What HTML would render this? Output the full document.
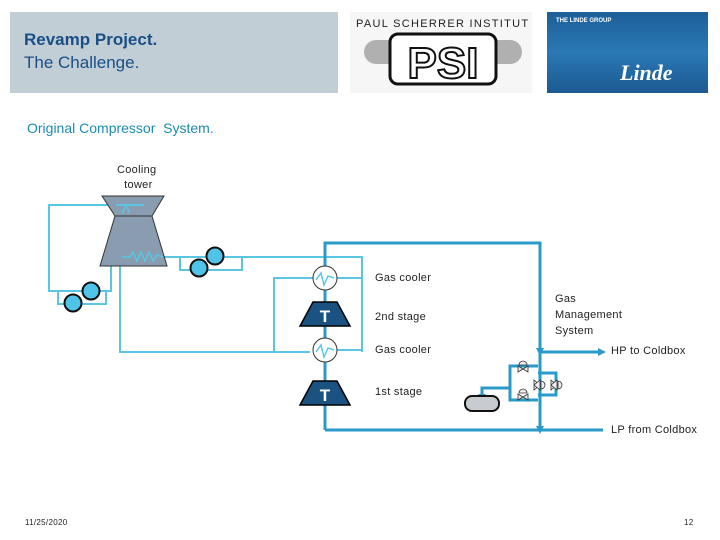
<!DOCTYPE html>
<html><head><meta charset="utf-8"><style>
body{margin:0;width:720px;height:540px;background:#fff;overflow:hidden;position:relative;font-family:"Liberation Sans",sans-serif}
.t{position:absolute;font-size:11px;color:#222;white-space:nowrap;letter-spacing:0.3px}
</style></head><body>
<div style="position:absolute;left:10px;top:12px;width:328px;height:81px;background:#c1ced6"></div>
<div style="position:absolute;left:24px;top:30px;font-size:17px;font-weight:bold;color:#1a4f86">Revamp Project.</div>
<div style="position:absolute;left:24px;top:53px;font-size:17px;color:#1a4f86">The Challenge.</div>
<div style="position:absolute;left:27px;top:120px;font-size:14px;color:#1c8bb4">Original Compressor &nbsp;System.</div>
<div style="position:absolute;left:350px;top:12px;width:182px;height:81px;background:#f6f6f6"></div>
<div style="position:absolute;left:356px;top:18px;font-size:11px;letter-spacing:1.3px;color:#222">PAUL SCHERRER INSTITUT</div>
<svg style="position:absolute;left:350px;top:12px" width="182" height="81">
<rect x="14" y="28" width="158" height="24" rx="12" fill="#b0b0b0"/>
<rect x="40" y="22" width="106" height="50" rx="8" fill="#fff" stroke="#111" stroke-width="3"/>
<text x="93" y="66" font-size="44" font-weight="bold" text-anchor="middle" fill="#fff" stroke="#111" stroke-width="2" font-family="Liberation Sans">PSI</text>
</svg>
<div style="position:absolute;left:547px;top:12px;width:161px;height:81px;background:linear-gradient(180deg,#1d5f98,#2a78b4 50%,#1c5a92)"></div>
<div style="position:absolute;left:556px;top:18px;font-size:6px;color:#fff;font-weight:bold">THE LINDE GROUP</div>
<div style="position:absolute;left:620px;top:60px;font-size:22px;color:#fff;font-style:italic;font-weight:bold;font-family:'Liberation Serif',serif">Linde</div>

<svg style="position:absolute;left:0;top:0" width="720" height="540">
<g fill="none" stroke="#5ac6e4" stroke-width="2">
<polyline points="130,205 49,205 49,291 111,291 111,266"/>
<polyline points="58,291 58,304 106,304 106,291"/>
<polyline points="163,257 362,257 362,352"/>
<polyline points="180,257 180,270 242,270 242,257"/>
<polyline points="122,257 120,257 120,352 310,352"/>
<polyline points="274,352 274,278 313,278"/>
<line x1="337" y1="278" x2="362" y2="278"/>
<line x1="337" y1="350" x2="362" y2="350"/>
</g>
<polygon points="102,196 164,196 152,216 115,216" fill="#8a9db0" stroke="#333" stroke-width="1"/>
<polygon points="115,216 152,216 167,266 100,266" fill="#8a9db0" stroke="#333" stroke-width="1"/>
<polyline points="122,257 130,257 133,252 137,261 141,252 145,261 149,252 153,261 157,255 163,257" fill="none" stroke="#5ac6e4" stroke-width="1.5"/>
<polyline points="116,205 144,205" stroke="#5ac6e4" stroke-width="2"/>
<polyline points="122,213 126,206 130,213 M140,213 144,206 148,213" fill="none" stroke="#5ac6e4" stroke-width="1.5"/>
<g fill="#4fc4e8" stroke="#111" stroke-width="2">
<circle cx="73" cy="303" r="8.5"/><circle cx="91" cy="291" r="8.5"/>
<circle cx="199" cy="268" r="8.5"/><circle cx="215" cy="256" r="8.5"/>
</g>
<g fill="none" stroke="#2a9ac8" stroke-width="3">
<polyline points="325,430 325,243 540,243 540,430"/>
<line x1="325" y1="430" x2="603" y2="430"/>
<line x1="540" y1="352" x2="600" y2="352"/>
<polyline points="510,388 510,366 538,366"/>
<polyline points="510,388 510,400 538,400"/>
<polyline points="538,373 556,373 556,395 538,395"/>
<polyline points="510,388 482,388 482,396"/>
</g>
<polygon points="536,348 544,348 540,356" fill="#2a9ac8"/>
<polygon points="536,426 544,426 540,434" fill="#2a9ac8"/>
<polygon points="598,348 606,352 598,356" fill="#2a9ac8"/>
<polygon points="478,394 486,394 482,400" fill="#2a9ac8"/>
<g fill="#fff" stroke="#333" stroke-width="1">
<circle cx="325" cy="278" r="12"/><circle cx="325" cy="350" r="12"/>
</g>
<polyline points="316,280 321,273 324,285 328,276 334,278" fill="none" stroke="#5ac6e4" stroke-width="1.5"/>
<polyline points="316,352 321,345 324,357 328,348 334,350" fill="none" stroke="#5ac6e4" stroke-width="1.5"/>
<g fill="#1a5282" stroke="#000" stroke-width="1.5">
<polygon points="313,302 337,302 350,326 300,326"/>
<polygon points="313,381 337,381 350,405 300,405"/>
</g>
<text x="325" y="322" font-size="17" font-weight="bold" fill="#fff" text-anchor="middle">T</text>
<text x="325" y="401" font-size="17" font-weight="bold" fill="#fff" text-anchor="middle">T</text>
<rect x="465" y="396" width="34" height="15" rx="7" fill="#c8ccd0" stroke="#111" stroke-width="2"/>
<g fill="#eee" stroke="#333" stroke-width="0.8">
<polygon points="518,366 528,372 528,366 518,372"/><path d="M519,365 a4,4 0 0 1 8,0z"/>
<polygon points="518,394 528,400 528,394 518,400"/><path d="M519,393 a4,4 0 0 1 8,0z"/>
<polygon points="534,380 540,385 534,390"/><polygon points="540,380 534,385 540,390"/><path d="M541,381 a4,4 0 0 1 0,8z"/>
<polygon points="551,380 557,385 551,390"/><polygon points="557,380 551,385 557,390"/><path d="M558,381 a4,4 0 0 1 0,8z"/>
</g>
</svg>
<div class="t" style="left:117px;top:163px;text-align:center;line-height:15px">Cooling<br>&nbsp;tower</div>
<div class="t" style="left:375px;top:272px">Gas cooler</div>
<div class="t" style="left:375px;top:311px">2nd stage</div>
<div class="t" style="left:375px;top:344px">Gas cooler</div>
<div class="t" style="left:375px;top:386px">1st stage</div>
<div class="t" style="left:555px;top:291px;line-height:16px">Gas<br>Management<br>System</div>
<div class="t" style="left:611px;top:345px">HP to Coldbox</div>
<div class="t" style="left:611px;top:424px">LP from Coldbox</div>
<div class="t" style="left:25px;top:518px;font-size:8px">11/25/2020</div>
<div class="t" style="left:684px;top:518px;font-size:8px">12</div>
</body></html>
